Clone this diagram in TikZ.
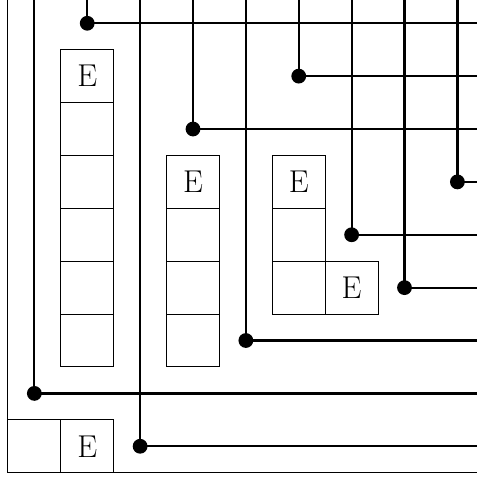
\documentclass[tikz,border=0pt]{standalone}
\begin{document}
\begin{tikzpicture}[
  cell/.style={draw, line width=0.5pt, minimum size=1cm, inner sep=0pt, outer sep=0pt, font=\fontsize{17}{20}\selectfont},
  wire/.style={line width=1.2pt},
  dot/.style={circle, fill, inner sep=0pt, outer sep=0pt, minimum size=0.28cm},
  framel/.style={line width=0.5pt}
]
\useasboundingbox (-0.15,-0.1) rectangle (8.87,8.94);
% frame
\coordinate (ftop) at (0,9.2);
\coordinate (forig) at (0,0);
\coordinate (fright) at (9.2,0);
\draw[framel] (ftop) -- (forig) -- (fright);
% column 1
\node[cell] (a1) at (1.5,7.5) {E};
\node[cell] (a2) at (1.5,6.5) {};
\node[cell] (a3) at (1.5,5.5) {};
\node[cell] (a4) at (1.5,4.5) {};
\node[cell] (a5) at (1.5,3.5) {};
\node[cell] (a6) at (1.5,2.5) {};
% column 2
\node[cell] (b1) at (3.5,5.5) {E};
\node[cell] (b2) at (3.5,4.5) {};
\node[cell] (b3) at (3.5,3.5) {};
\node[cell] (b4) at (3.5,2.5) {};
% L shape
\node[cell] (c1) at (5.5,5.5) {E};
\node[cell] (c2) at (5.5,4.5) {};
\node[cell] (c3) at (5.5,3.5) {};
\node[cell] (c4) at (6.5,3.5) {E};
% bottom left
\node[cell] (e1) at (0.5,0.5) {};
\node[cell] (e2) at (1.5,0.5) {E};
% wires
\foreach \i/\x/\y in {1/0.5/1.5, 2/1.5/8.5, 3/2.5/0.5, 4/3.5/6.5, 5/4.5/2.5, 6/5.5/7.5, 7/6.5/4.5, 8/7.5/3.5, 9/8.5/5.5}{
  \coordinate (t\i) at (\x,9.2);
  \coordinate (r\i) at (9.2,\y);
  \node[dot] (d\i) at (\x,\y) {};
  \draw[wire] (t\i) -- (d\i.center) -- (r\i);
}
\end{tikzpicture}
\end{document}
